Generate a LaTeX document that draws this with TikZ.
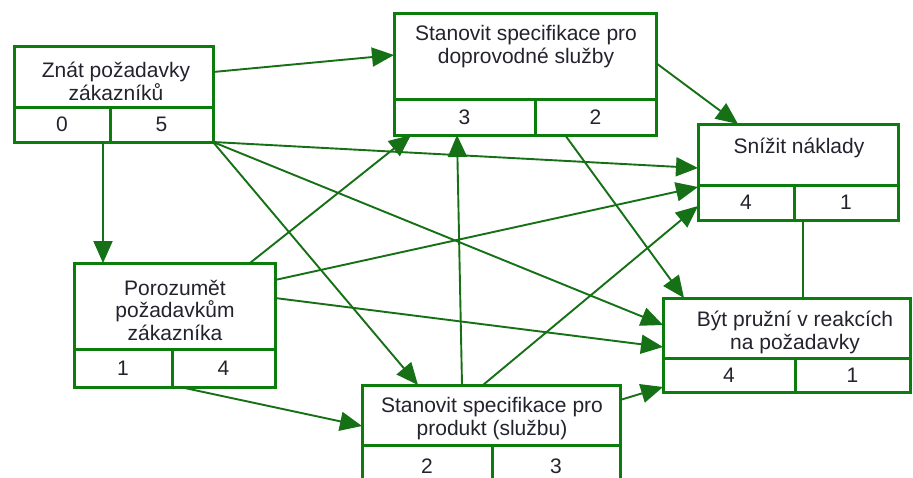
\documentclass[tikz,border=0pt]{standalone}
\usepackage{fontspec}
\setmainfont{Liberation Sans}
\usetikzlibrary{arrows.meta}
\definecolor{boxgreen}{RGB}{12,125,12}
\definecolor{linegreen}{RGB}{22,112,22}
\definecolor{ink}{RGB}{35,35,45}

% one goal box: name, left, top, right, divider y, bottom, divider x, left value, right value
\newcommand\kbox[9]{%
  \node[region, minimum width={#4-#2}, minimum height={#5-#3}] (#1) at (#2,#3) {};
  \node[region, cell, minimum width={#7-#2}, minimum height={#6-#5}] (#1-l) at (#2,#5) {#8};
  \node[region, cell, minimum width={#4-#7}, minimum height={#6-#5}] (#1-r) at (#7,#5) {#9};
}

\begin{document}
\begin{tikzpicture}[x=1pt,y=-1pt,
  region/.style={draw=boxgreen, fill=white, line width=3pt, inner sep=0pt, outer sep=0pt, anchor=north west},
  cell/.style={font=\fontsize{21}{23}\selectfont, text=ink},
  goaltext/.style={font=\fontsize{21}{22.5}\selectfont, text=ink, align=center, anchor=base, inner sep=0pt},
  arr/.style={draw=linegreen, line width=1.9pt, -{Triangle[length=22pt,width=19pt]}},
  plain/.style={draw=linegreen, line width=1.9pt}]

\useasboundingbox (0,0) rectangle (913,477);
\clip (0,0) rectangle (913,477);
\fill[white] (0,0) rectangle (913,477);

% boxes first, so that the arrows can refer to them
\kbox{A}{14}{46}{213}{107}{142}{110}{0}{5}
\kbox{B}{394}{13}{656}{99}{135}{535}{3}{2}
\kbox{C}{698}{124}{898}{185}{220}{794}{4}{1}
\kbox{D}{663}{298}{910}{358}{392}{795}{4}{1}
\kbox{E}{74}{263}{275}{349}{387}{172}{1}{4}
\kbox{F}{362}{385}{620}{445}{487}{492}{2}{3}

% goal texts, placed by the baseline of their last line
\node[goaltext] (A-t) at (116,100) {Znát požadavky\\zákazníků};
\node[goaltext] (B-t) at (526,63) {Stanovit specifikace pro\\doprovodné služby};
\node[goaltext] (C-t) at (799,153) {Snížit náklady};
\node[goaltext] (D-t) at (795,349) {Být pružní v reakcích\\na požadavky};
\node[goaltext] (E-t) at (175,340) {Porozumět\\požadavkům\\zákazníka};
\node[goaltext] (F-t) at (492,435) {Stanovit specifikace pro\\produkt (službu)};

% connectors
\draw[arr] (A.east |- 0,72) -- (B.west |- 0,55);
\draw[arr] (A-l.south -| 103,0) -- (E.north -| 103,0);
\draw[arr] (A-r.south east) -- (C.west |- 0,168);
\draw[arr] (A-r.south east) -- (D.west |- 0,325);
\draw[arr] (A-r.south east) -- (F.north -| 418,0);
\draw[arr] (E.north -| 250,0) -- (B-l.south -| 411,0);
\draw[arr] (E.east |- 0,280) -- (C.west |- 0,187);
\draw[arr] (E.east |- 0,298) -- (D.west |- 0,347);
\draw[arr] (E-r.south -| 180,0) -- (F.west |- 0,426);
\draw[arr] (F.north -| 462,0) -- (B-l.south -| 457,0);
\draw[arr] (F.north -| 483,0) -- (C-l.west |- 0,206);
\draw[arr] (F.east |- 0,400) -- (D-l.west |- 0,387);
\draw[arr] (B.east |- 0,63) -- (C.north -| 738,0);
\draw[arr] (B-r.south -| 565,0) -- (D.north -| 684,0);
\draw[plain] (C-r.south -| 803,0) -- (D.north -| 803,0);
\end{tikzpicture}
\end{document}
